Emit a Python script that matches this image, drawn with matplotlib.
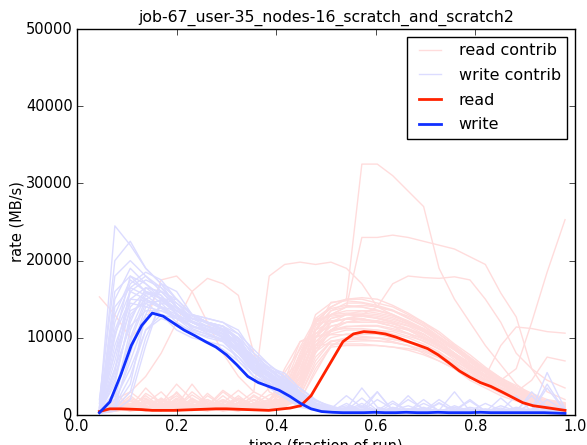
import numpy as np
import matplotlib
matplotlib.use("Agg")
from matplotlib import pyplot as plt

title = "job-67_user-35_nodes-16_scratch_and_scratch2"

# sample points (fraction of run) for the per-node curves
t_contrib = [0.045, 0.076, 0.107, 0.138, 0.169, 0.200, 0.231, 0.262, 0.293, 0.324,
             0.355, 0.386, 0.417, 0.448, 0.479, 0.510, 0.541, 0.572, 0.603, 0.634,
             0.665, 0.696, 0.727, 0.758, 0.789, 0.820, 0.851, 0.882, 0.913, 0.944, 0.980]

# read contributions, in thousands of MB/s
read_contrib = [
    [0.5, 1.5, 0.8, 2, 1, 0.6, 1.2, 0.8, 2.5, 1, 0.7, 1.5, 2, 6, 11, 13.5, 14.5, 14.5, 14, 13.5, 12.5, 11.5, 10, 8.5, 7, 5.5, 4, 3, 2, 1.5, 1.2],
    [0.3, 0.8, 2.5, 1, 0.5, 3, 1, 0.6, 0.8, 2, 1, 0.6, 1, 3, 8.5, 10, 10.5, 10.5, 10.5, 10, 9.5, 9, 8, 6.5, 5, 4, 3, 2, 1.2, 0.8, 0.6],
    [0.4, 1, 0.6, 1.5, 3, 1, 0.8, 2, 1, 0.5, 1.2, 2, 3.5, 8, 12, 14, 15, 32.5, 32.5, 31, 29, 27, 19, 15, 12, 9, 6.5, 4, 2.5, 1.5, 1],
    [0.5, 2, 1, 0.6, 1.5, 0.8, 2, 1, 0.6, 1.5, 0.8, 1, 2, 5, 10, 13, 14, 23, 23, 23.3, 23, 22.5, 22, 21.5, 20.5, 19.5, 15.8, 12.7, 6, 3, 2],
    [0.3, 0.6, 1, 2.5, 1, 0.5, 0.8, 1.5, 0.6, 1, 2, 0.8, 1.2, 4, 9, 12, 13, 13, 12.5, 12, 11, 10.5, 9, 7.5, 6, 5, 4.5, 6, 12, 18.5, 25.3],
    [0.5, 1, 2, 1, 1.5, 4, 2, 1, 0.6, 1.5, 3, 18, 19.5, 19.8, 19.5, 19.8, 19, 17, 14, 13, 12, 11, 9.5, 8, 6, 4.5, 3, 2, 1.5, 1, 0.8],
    [15.3, 13, 10, 12, 17.5, 18, 16, 12, 8, 5, 3, 2, 1.5, 4, 9, 11, 12, 12.5, 12, 11.5, 11, 10, 9, 7.5, 6, 4.5, 3.5, 2.5, 1.8, 1.2, 1],
    [0.5, 2, 3, 5, 8, 12, 16, 17.7, 17, 15.5, 8, 3, 2, 5, 10, 12.5, 13, 13.5, 13.5, 13, 12, 11, 10, 8.5, 7, 5.5, 4, 3, 2, 1.5, 1],
    [0.4, 0.8, 1.5, 0.6, 1, 2, 0.8, 0.5, 1, 2.5, 1, 0.8, 1.5, 3, 8, 11, 12.5, 13, 14, 17, 18, 17.8, 17.7, 17.9, 17.5, 15, 12, 8, 6, 4.5, 3.5],
    [0.6, 1, 0.5, 1.5, 2, 1, 3, 1.5, 0.8, 1, 0.6, 1.2, 2.5, 7, 11, 12, 12.5, 12.5, 12, 11.5, 10.5, 9.5, 8.5, 7.5, 6, 5, 9, 11.4, 11.2, 10.8, 10.6],
    [0.3, 0.6, 1.2, 0.8, 2, 1.5, 0.6, 1, 3, 1.5, 0.8, 0.6, 1, 2.5, 7, 9.5, 10, 10, 10, 9.5, 9, 8, 7, 6, 5, 4, 3, 2.5, 2, 1.5, 1.2],
    [0.5, 1.5, 0.8, 1, 0.6, 2, 1.2, 0.8, 1.5, 0.6, 1, 2, 3, 8, 12, 13, 14, 14, 13.5, 13, 12, 11, 9.5, 8, 6.5, 5, 3.5, 3, 4.5, 7.5, 7],
    [0.4, 0.6, 1, 3.5, 1.5, 0.8, 0.6, 2.5, 1.2, 0.8, 1.5, 1, 1.2, 2, 5.5, 9, 10, 10.5, 10.5, 10, 9.5, 8.5, 7.5, 6, 4.5, 3.5, 2.5, 1.8, 1.2, 0.8, 0.6],
    [0.6, 2, 1, 0.6, 1.8, 1.2, 4, 1.5, 0.8, 1.2, 2, 1, 2.5, 7.5, 12.5, 14, 15, 15, 14.5, 14, 13, 12, 10.5, 9, 7.5, 6, 4.5, 3.5, 2.5, 1.8, 1.5],
    [0.3, 0.5, 0.8, 1.2, 0.6, 1, 1.5, 0.8, 0.6, 1, 1.5, 3.5, 5, 7, 9.5, 11, 11.5, 11.5, 11.5, 11, 10.5, 10, 9, 7.5, 6, 4.5, 3.5, 2.5, 1.5, 1, 0.8],
    [0.5, 1, 3, 1.5, 1, 0.6, 0.8, 1.2, 2, 0.8, 0.6, 1.5, 6, 9.5, 10.5, 11.5, 12, 12, 12, 11.5, 11, 10, 9, 8, 6.5, 5.5, 4, 3, 2.2, 1.5, 1.2],
    [0.4, 0.8, 1.5, 0.6, 1.2, 2.5, 1, 0.6, 0.8, 1.5, 0.8, 1, 1.5, 4.5, 10, 12, 12.5, 12.8, 12.5, 12, 11.5, 10.5, 9.2, 7.8, 6.2, 4.8, 3.5, 2.6, 1.8, 1.2, 1],
    [0.6, 1.2, 0.5, 0.8, 2.2, 1, 0.6, 1.8, 0.8, 0.5, 1.2, 0.8, 1.8, 5.5, 11.5, 13.5, 14, 14.2, 14, 13.5, 12.8, 11.8, 10.5, 9, 7.2, 5.8, 4.2, 3.2, 2.2, 1.6, 1.2],
    [0.3, 0.5, 1, 1.8, 0.8, 0.6, 2.2, 1, 0.5, 0.8, 1.5, 1.2, 1.5, 3.5, 9, 10.5, 11, 11, 11, 10.5, 10, 9.2, 8.2, 6.8, 5.5, 4.2, 3.2, 2.2, 1.5, 1, 0.8],
    [0.5, 1.8, 0.8, 0.5, 1, 1.5, 0.8, 2.8, 1.2, 0.6, 0.8, 1.8, 2.2, 6.5, 12, 13, 13.5, 13.5, 13.2, 12.8, 12, 11.2, 10, 8.8, 7.2, 6, 4.8, 3.6, 2.6, 1.8, 1.4],
    [0.4, 0.6, 2.2, 1.2, 0.6, 0.8, 1.4, 0.6, 2, 1.2, 0.6, 0.8, 1.2, 3, 7.5, 9.5, 9.8, 10, 10, 9.8, 9.4, 8.8, 7.8, 6.5, 5.2, 4, 3, 2.2, 1.6, 1.2, 1],
    [0.8, 1, 0.6, 2.8, 1.6, 0.8, 0.6, 1.2, 0.8, 2.2, 1.2, 0.6, 2, 6, 11, 13, 13.2, 13.2, 13, 12.6, 11.8, 10.8, 9.5, 8, 6.8, 5.5, 4.2, 3.2, 2.4, 1.8, 1.4],
    [0.3, 0.8, 1.2, 0.6, 1.6, 0.8, 1.8, 0.8, 0.6, 1.2, 2.4, 1.2, 1.6, 4, 9.5, 11.5, 12, 12.2, 12.2, 11.8, 11.2, 10.4, 9.4, 8, 6.6, 5.2, 4, 3, 2.2, 1.6, 1.2],
    [0.5, 1.2, 0.8, 1.2, 0.6, 1.2, 0.8, 1.2, 3.2, 1.8, 0.8, 1.6, 2.8, 7, 13, 14.5, 15, 15.2, 15, 14.2, 13.2, 12, 10.8, 9.2, 7.8, 6.2, 4.8, 3.8, 2.8, 2, 1.6],
    [0.4, 0.6, 0.6, 1.6, 0.8, 2.2, 1.2, 0.6, 1, 0.6, 1.4, 2.6, 3.2, 5.5, 10, 11, 11.2, 11.2, 11, 10.8, 10.2, 9.6, 8.6, 7.2, 5.8, 4.6, 3.4, 2.6, 1.8, 1.2, 0.9],
    [0.6, 1.4, 1.8, 0.8, 0.6, 1, 2.6, 1.4, 0.8, 1.6, 0.8, 1, 1.4, 5, 10.5, 12.5, 13, 13, 12.8, 12.4, 11.8, 11, 9.8, 8.5, 7, 5.6, 4.2, 3.2, 2.2, 1.6, 1.2],
    [0.3, 0.5, 0.8, 1, 1.4, 0.8, 0.6, 1, 1.6, 3.2, 1.6, 0.8, 1, 2.5, 6.5, 9, 9.5, 9.6, 9.6, 9.4, 9, 8.4, 7.6, 6.4, 5.2, 4.2, 3.2, 2.4, 1.6, 1, 0.8],
    [0.5, 2.8, 1.2, 0.6, 0.8, 1.6, 1, 0.8, 1.2, 0.8, 2, 1.2, 2.2, 6.8, 12.2, 13.8, 14.2, 14, 13.6, 13, 12.2, 11.2, 10, 8.6, 7.2, 5.8, 4.6, 3.4, 2.4, 1.8, 1.4],
    [0.4, 0.8, 1.2, 0.6, 1, 1.8, 0.8, 0.6, 1.4, 0.8, 1.2, 1, 2.5, 7.5, 9, 9.2, 9.2, 9.2, 9, 8.8, 8.4, 7.8, 7, 6, 4.8, 3.8, 2.8, 2, 1.4, 1, 0.8],
    [0.5, 1, 0.6, 1.4, 2, 0.8, 1.2, 0.6, 0.8, 1.6, 1, 0.8, 1.2, 1.8, 6, 8.8, 9, 9, 9, 8.8, 8.6, 8.2, 7.4, 6.4, 5.2, 4.2, 3.2, 2.4, 1.6, 1.2, 0.9],
    [0.3, 1.6, 0.8, 0.6, 1.2, 0.8, 1.6, 2, 1, 0.6, 1.4, 2, 4.5, 9.5, 10.2, 10.4, 10.4, 10.2, 10, 9.8, 9.4, 8.8, 8, 7, 5.8, 4.6, 3.6, 2.6, 1.8, 1.2, 1],
    [0.6, 0.8, 1.4, 2.2, 0.8, 1.4, 0.8, 1.6, 0.8, 1.2, 0.8, 1.6, 2.2, 4.8, 8.2, 9.6, 9.8, 9.8, 9.6, 9.4, 9, 8.4, 7.6, 6.6, 5.6, 4.4, 3.4, 2.6, 1.8, 1.4, 1.1],
    [0.4, 1.2, 0.6, 0.8, 1.6, 2.8, 1, 0.6, 1.2, 0.8, 1.6, 1.2, 3.8, 8.8, 12.4, 12.8, 13, 12.8, 12.6, 12.2, 11.6, 10.8, 9.6, 8.4, 7, 5.6, 4.4, 3.2, 2.4, 1.6, 1.2],
    [0.5, 0.6, 1, 1.2, 0.6, 1, 2, 1.2, 0.6, 1, 2.6, 1.4, 1.8, 4.2, 11, 14.6, 14.8, 14.6, 14.2, 13.6, 12.6, 11.6, 10.2, 8.8, 7.4, 6, 4.6, 3.4, 2.4, 1.8, 1.4],
    [0.3, 0.8, 1.8, 1, 0.6, 1.4, 0.8, 1.2, 1.8, 0.6, 1, 0.8, 1.4, 3.2, 8.6, 10.8, 11.4, 11.6, 11.6, 11.2, 10.6, 9.8, 8.8, 7.6, 6.2, 5, 3.8, 2.8, 2, 1.4, 1],
    [0.5, 1.4, 0.8, 2, 1.2, 0.6, 1.2, 0.8, 1, 2.2, 1.2, 1.6, 5.5, 8.5, 11.8, 12.2, 12.4, 12.4, 12.2, 11.8, 11.2, 10.2, 9, 7.8, 6.4, 5.2, 4, 3, 2.2, 1.6, 1.2],
]

# write contributions, in thousands of MB/s
write_contrib = [
    [0.5, 6, 14, 16, 15.5, 13, 12, 11.5, 10.5, 8, 5.5, 4.5, 3, 1.5, 0.8, 0.5, 0.6, 1.2, 0.4, 0.8, 0.5, 1.5, 0.6, 0.4, 0.8, 0.5, 0.9, 0.4, 0.6, 1.2, 0.5],
    [1, 24.5, 22, 19, 17, 14, 12.5, 12, 11, 9, 6, 5, 4, 2, 1, 0.5, 0.4, 0.6, 0.3, 1.5, 0.5, 0.4, 0.3, 0.8, 0.3, 0.5, 0.4, 0.3, 0.6, 0.4, 0.3],
    [0.3, 1, 4, 13, 17, 16, 13, 12, 11.5, 10, 7, 5, 3.5, 2, 1.2, 0.8, 2.5, 1, 3, 0.6, 1.2, 0.5, 2, 0.7, 0.5, 1.5, 0.6, 0.4, 3, 1, 0.4],
    [0.2, 0.5, 2, 9, 15, 15, 13, 12.5, 12, 11, 8, 6, 4.5, 2.5, 1.5, 0.8, 0.5, 1, 0.4, 0.6, 2, 0.8, 0.4, 0.5, 0.7, 0.4, 0.5, 0.8, 0.5, 0.6, 0.5],
    [2, 18, 20, 18, 16, 14, 12, 11, 10, 7, 5, 4, 2.5, 1.2, 0.6, 0.5, 1.5, 0.5, 0.6, 0.4, 0.5, 1, 0.4, 0.6, 1.8, 0.5, 0.4, 1, 0.6, 5.5, 0.8],
    [0.5, 10, 18, 17, 15, 13, 11.5, 11, 10.5, 8.5, 6, 5, 3, 1.5, 0.8, 0.4, 0.5, 0.4, 0.8, 0.5, 0.4, 0.6, 0.5, 1, 0.4, 0.4, 1.2, 0.5, 0.4, 0.8, 0.4],
    [0.3, 3, 10, 15, 16, 14, 12, 11, 10, 8.5, 6.5, 5, 3.5, 2.5, 1.5, 1, 0.8, 3.5, 1, 0.5, 0.6, 0.4, 1.5, 0.5, 0.6, 0.5, 0.4, 0.6, 2.5, 0.5, 0.4],
    [1.5, 20, 22.5, 19, 17, 15, 13, 12, 11.5, 9.5, 6.5, 5.5, 4, 2, 1, 0.6, 0.5, 0.8, 0.5, 0.4, 0.6, 0.5, 0.4, 0.5, 0.4, 0.5, 0.4, 0.6, 0.4, 0.5, 0.4],
    [0.2, 1, 8, 14, 15, 14.5, 13, 12, 11, 9, 7, 6, 4.5, 3.5, 2, 1, 0.6, 0.5, 2, 0.8, 0.5, 0.4, 0.6, 3, 0.5, 0.4, 0.6, 0.5, 0.8, 0.5, 0.6],
    [0.5, 12, 17, 18.5, 17.5, 15, 13, 12.5, 12, 10.5, 7.5, 5, 3.5, 2, 1, 0.5, 0.4, 0.5, 0.4, 0.5, 0.8, 0.4, 0.5, 0.4, 0.5, 0.6, 0.5, 0.4, 0.4, 4, 0.5],
    [0.3, 2, 6, 11, 13, 12.5, 12, 11.5, 10, 8, 6, 4.5, 3, 1.5, 0.8, 0.5, 1, 0.5, 0.4, 1, 0.5, 2, 0.5, 0.4, 0.6, 0.4, 0.5, 0.4, 0.6, 0.4, 0.5],
    [0.8, 15, 19, 17, 15.5, 13.5, 12, 11, 10.5, 9, 5.5, 4, 2.5, 1.2, 0.7, 0.4, 0.5, 0.6, 0.5, 0.4, 0.5, 0.6, 0.4, 0.5, 0.4, 0.5, 0.6, 0.4, 1.5, 0.6, 0.5],
    [0.4, 5, 12, 16.5, 16, 14, 12.5, 12, 11, 9, 6.5, 5.5, 4, 2.5, 1.5, 1, 0.8, 0.6, 0.5, 0.6, 0.5, 0.8, 0.6, 0.5, 1, 0.6, 0.5, 0.8, 0.6, 0.5, 0.6],
    [0.6, 8, 16, 17.5, 16.5, 14.5, 12.5, 11.5, 11, 10, 7, 5.5, 4, 2, 1, 0.6, 0.5, 0.5, 0.6, 0.5, 0.4, 0.5, 0.6, 0.5, 0.6, 0.4, 0.5, 0.5, 0.4, 0.6, 0.4],
    [0.4, 4, 13, 15, 14, 12.5, 11.5, 11, 10.5, 9.5, 6, 4.5, 3, 1.8, 1, 0.6, 0.5, 0.4, 0.6, 0.5, 2.5, 0.6, 0.4, 0.5, 0.6, 0.4, 0.5, 0.6, 0.5, 0.4, 0.5],
    [0.3, 7, 15, 16.5, 15, 13.5, 12.5, 12, 11.5, 10.5, 8.5, 6.5, 5, 3, 1.5, 0.8, 0.6, 0.5, 0.4, 0.6, 0.5, 0.4, 0.5, 0.6, 2, 0.5, 0.4, 0.5, 0.6, 0.5, 0.4],
    [1, 13, 17.5, 16, 14.5, 12.5, 11, 10.5, 9.5, 7.5, 5, 3.5, 2.2, 1, 0.6, 0.4, 0.5, 0.6, 0.4, 0.5, 0.6, 0.4, 0.5, 0.4, 0.6, 0.5, 0.4, 0.5, 0.4, 0.5, 0.4],
    [0.2, 2.5, 11, 15.5, 16, 15, 13, 12, 11.5, 9.5, 7, 6, 5, 3, 1.8, 1.2, 0.6, 1.5, 0.5, 0.4, 0.5, 0.6, 0.5, 0.4, 0.5, 0.8, 0.5, 2.5, 0.4, 0.6, 0.5],
    [0.5, 9, 14.5, 14, 13.5, 12.5, 11.5, 11, 10.5, 9, 6.5, 5, 3.8, 2.2, 1.2, 0.7, 0.5, 0.4, 0.6, 1.8, 0.5, 0.4, 0.6, 0.5, 0.4, 0.6, 0.4, 0.5, 0.6, 0.4, 0.5],
    [0.3, 1.5, 7, 12.5, 14, 13.5, 12.5, 12, 11, 10, 8, 6.5, 4.8, 2.8, 1.4, 0.8, 0.5, 0.6, 0.4, 0.5, 0.4, 0.5, 0.6, 0.5, 0.4, 0.5, 0.6, 0.5, 0.4, 2, 0.5],
    [0.6, 11, 16, 15, 14, 13, 12, 11.5, 10.8, 8.8, 6.2, 4.8, 3.2, 1.6, 0.9, 0.5, 0.4, 0.6, 0.5, 0.4, 0.6, 0.5, 0.4, 1.2, 0.5, 0.4, 0.5, 0.4, 0.5, 0.6, 0.4],
    [0.4, 5.5, 16.5, 18, 16.5, 14, 12.5, 12, 11.2, 9.8, 7.2, 5.8, 4.2, 2.4, 1.3, 0.7, 1.2, 0.5, 0.4, 0.6, 0.5, 0.6, 0.4, 0.5, 0.6, 0.4, 0.5, 0.6, 0.4, 0.5, 0.5],
    [0.2, 0.8, 3, 10, 14.5, 14, 12.8, 11.8, 11, 9.2, 6.8, 5.2, 3.6, 2, 1.1, 0.6, 0.5, 0.4, 0.5, 0.6, 0.4, 0.5, 0.4, 0.5, 0.4, 0.6, 0.5, 0.4, 0.5, 0.4, 0.5],
    [0.7, 16, 18, 16, 15, 13.5, 12, 11.2, 10.2, 8.2, 5.8, 4.2, 2.8, 1.4, 0.7, 0.4, 0.5, 0.4, 3, 0.5, 0.4, 0.5, 0.6, 0.4, 0.5, 0.4, 0.6, 0.5, 0.4, 0.5, 0.4],
    [0.3, 3, 9, 13, 13, 11.5, 10.5, 9.5, 9, 7.5, 5.5, 4.5, 3.2, 1.8, 1, 0.6, 0.4, 0.5, 0.6, 0.4, 0.5, 0.4, 1.6, 0.5, 0.4, 0.5, 0.6, 0.4, 0.5, 0.4, 0.5],
    [0.5, 8, 13.5, 14.5, 13, 11, 10, 9.5, 8.5, 7, 5, 4, 3, 1.5, 0.8, 0.5, 0.6, 0.4, 0.5, 0.6, 0.4, 0.5, 0.6, 0.4, 0.5, 0.4, 2.2, 0.5, 0.6, 0.4, 0.5],
    [0.2, 1.2, 5, 11, 12.5, 11.8, 10.8, 10, 9.5, 8.2, 6.2, 5.2, 4.2, 2.6, 1.4, 0.8, 0.5, 0.4, 0.5, 0.4, 0.5, 0.6, 0.4, 0.5, 0.4, 0.5, 0.4, 0.5, 0.4, 0.5, 0.4],
    [0.6, 14, 16.5, 15.5, 14, 12, 10.8, 10.2, 9.8, 8.8, 6.8, 5.8, 4.6, 2.8, 1.6, 0.9, 0.6, 0.5, 0.4, 0.5, 0.8, 0.5, 0.4, 0.5, 0.6, 0.5, 0.4, 0.6, 0.5, 3.5, 0.5],
    [0.4, 6, 11.5, 13.5, 13.5, 12.8, 11.6, 10.6, 9.8, 8.6, 6.4, 5.4, 3.8, 2.2, 1.2, 0.6, 0.5, 0.6, 0.5, 0.4, 0.5, 0.4, 0.5, 0.6, 0.4, 0.5, 0.4, 0.5, 0.6, 0.5, 0.4],
    [0.3, 2, 9.5, 14.5, 14.8, 13.2, 11.2, 10.4, 9.6, 8, 5.8, 4.6, 3.4, 2, 1.2, 0.7, 0.6, 2.2, 0.6, 0.5, 0.4, 0.6, 0.5, 0.4, 0.5, 0.4, 0.5, 0.4, 0.5, 0.6, 0.4],
    [0.5, 10.5, 15, 14.8, 13.8, 12.6, 11.4, 10.8, 10.2, 9.2, 7.6, 6.2, 5.4, 3.4, 1.9, 1, 0.6, 0.5, 0.4, 0.5, 0.6, 0.5, 0.4, 0.5, 0.4, 0.6, 0.5, 0.4, 0.5, 0.4, 0.5],
    [0.3, 4.5, 12.5, 15.8, 15.2, 13.8, 12.2, 11.4, 10.6, 9.6, 7.4, 6, 4.4, 2.6, 1.4, 0.8, 0.5, 0.4, 0.5, 0.4, 0.5, 0.4, 0.6, 0.5, 0.4, 0.5, 0.4, 0.6, 0.5, 0.4, 0.5],
]

# aggregate curves
t_total = [0.045, 0.066, 0.088, 0.109, 0.130, 0.151, 0.173, 0.194, 0.215, 0.236,
           0.258, 0.279, 0.300, 0.321, 0.343, 0.364, 0.385, 0.406, 0.428, 0.449,
           0.470, 0.491, 0.513, 0.534, 0.555, 0.576, 0.598, 0.619, 0.640, 0.661,
           0.683, 0.704, 0.725, 0.746, 0.768, 0.789, 0.810, 0.831, 0.853, 0.874,
           0.895, 0.916, 0.938, 0.959, 0.980]
read_total = [0.45, 0.8, 0.8, 0.75, 0.7, 0.6, 0.6, 0.6, 0.65, 0.7,
              0.75, 0.8, 0.8, 0.75, 0.7, 0.65, 0.6, 0.75, 0.9, 1.2,
              2.5, 4.8, 7.2, 9.5, 10.5, 10.8, 10.7, 10.5, 10.1, 9.6,
              9.1, 8.6, 7.8, 6.8, 5.7, 4.9, 4.2, 3.7, 3.0, 2.3,
              1.6, 1.2, 1.0, 0.8, 0.6]
write_total = [0.3, 1.7, 5.2, 9.0, 11.6, 13.2, 12.8, 11.9, 11.0, 10.3,
               9.5, 8.8, 7.8, 6.5, 5.0, 4.2, 3.7, 3.2, 2.4, 1.5,
               0.8, 0.45, 0.35, 0.3, 0.3, 0.3, 0.35, 0.3, 0.3, 0.35,
               0.3, 0.3, 0.35, 0.3, 0.3, 0.3, 0.35, 0.3, 0.3, 0.3,
               0.3, 0.3, 0.3, 0.25, 0.2]

plt.style.use("classic")
plt.rcParams["font.size"] = 10.5
plt.rcParams["xtick.major.pad"] = 3
plt.rcParams["ytick.major.pad"] = 3

fig = plt.figure(figsize=(5.87, 4.45), dpi=100, facecolor="white")
ax = fig.add_subplot(111)
fig.subplots_adjust(left=77/587, right=575/587, top=1-29/445, bottom=1-415/445)

for i, r in enumerate(read_contrib):
    ax.plot(t_contrib, np.array(r) * 1000, color="#ffdcdc", lw=1,
            label="read contrib" if i == 0 else None)
for i, w in enumerate(write_contrib):
    ax.plot(t_contrib, np.array(w) * 1000, color="#dcdcff", lw=1,
            label="write contrib" if i == 0 else None)
ax.plot(t_total, np.array(read_total) * 1000, color="#ff2200", lw=2, label="read")
ax.plot(t_total, np.array(write_total) * 1000, color="#1030ff", lw=2, label="write")

ax.set_xlim(0, 1)
ax.set_ylim(0, 50000)
ax.set_title(title, fontsize=11.3)
ax.set_xlabel("time (fraction of run)", labelpad=3)
ax.set_ylabel("rate (MB/s)", labelpad=1)
ax.legend(loc="upper right", fontsize=11.5, labelspacing=0.6)

fig.savefig("out.png", dpi=100, facecolor="white")
